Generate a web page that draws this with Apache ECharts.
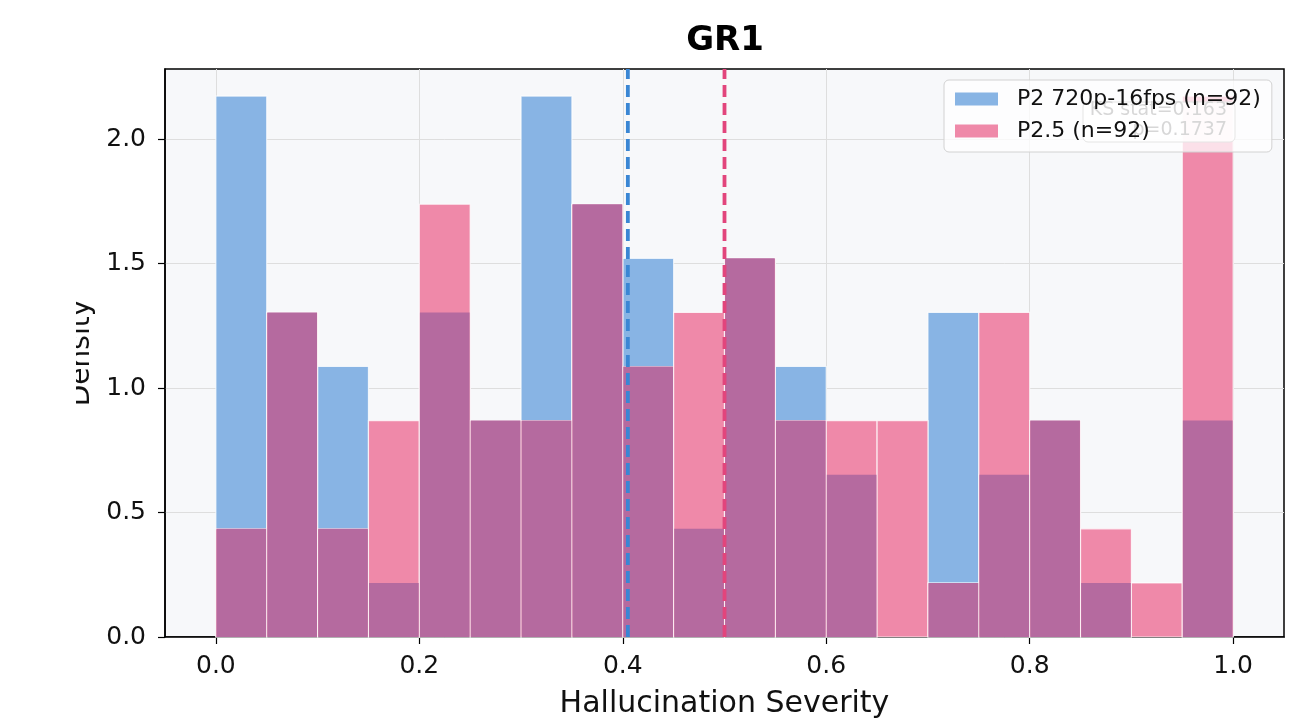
<!DOCTYPE html>
<html>
<head>
<meta charset="utf-8">
<title>GR1</title>
<script src="https://cdn.jsdelivr.net/npm/echarts@6.0.0/dist/echarts.min.js"></script>
<style>
  html, body { margin: 0; padding: 0; background: #fff; }
  #chart { width: 1291px; height: 719px; }
</style>
</head>
<body>
<div id="chart"></div>
<script>
// histogram bins (left edges), width 0.05
const binLefts = [0.00, 0.05, 0.10, 0.15, 0.20, 0.25, 0.30, 0.35, 0.40, 0.45,
                  0.50, 0.55, 0.60, 0.65, 0.70, 0.75, 0.80, 0.85, 0.90, 0.95];
const binWidth = 0.05;

// counts per bin (n = 92 each)
const blueName = 'P2 720p-16fps (n=92)';
const blueCounts = [10, 6, 5, 1, 6, 4, 10, 8, 7, 2, 7, 5, 3, 0, 6, 3, 4, 1, 0, 4];
const blueN = 92;
const blueMean = 0.405;

const pinkName = 'P2.5 (n=92)';
const pinkCounts = [2, 6, 2, 4, 8, 4, 4, 8, 5, 6, 7, 4, 4, 4, 1, 6, 4, 2, 1, 10];
const pinkN = 92;
const pinkMean = 0.500;

const xTicks = [0, 0.2, 0.4, 0.6, 0.8, 1.0];
const yTicks = [0, 0.5, 1.0, 1.5, 2.0];
const ksLines = ['KS stat=0.163', 'p=0.1737'];

const BLUE = '#88b4e4';
const PINK = '#ef89a9';
const PURPLE = '#b56a9f';
const FONT = 'DejaVu Sans';

// density = count / (n * width)
function toRows(counts, n) {
  return counts.map((c, i) => [binLefts[i], binLefts[i] + binWidth, c / (n * binWidth)])
    .filter(r => r[2] > 0);
}
const blueRows = toRows(blueCounts, blueN);
const pinkRows = toRows(pinkCounts, pinkN);
const overlapRows = binLefts.map((x, i) => [x, x + binWidth,
  Math.min(blueCounts[i] / (blueN * binWidth), pinkCounts[i] / (pinkN * binWidth))])
  .filter(r => r[2] > 0);

const yMax = Math.max(...blueRows.map(r => r[2]), ...pinkRows.map(r => r[2])) * 1.05;

function rectRenderer(color, edged) {
  return function (params, api) {
    const p0 = api.coord([api.value(0), 0]);
    const p1 = api.coord([api.value(1), api.value(2)]);
    const inset = edged ? 0 : 0.6;
    return {
      type: 'rect',
      shape: { x: p0[0] + inset, y: p1[1], width: p1[0] - p0[0] - 2 * inset, height: p0[1] - p1[1] },
      style: edged ? { fill: color, stroke: 'rgba(255,255,255,0.75)', lineWidth: 1.2 } : { fill: color }
    };
  };
}

function meanLine(name, x, color) {
  return {
    name: name,
    type: 'line',
    data: [[x, 0], [x, yMax]],
    showSymbol: false,
    symbol: 'none',
    silent: true,
    z: 5,
    lineStyle: { color: color, width: 3.8, type: [12, 6] }
  };
}

const chart = echarts.init(document.getElementById('chart'));

const option = {
  animation: false,
  textStyle: { fontFamily: FONT },
  title: {
    text: 'GR1',
    left: 720,
    textAlign: 'center',
    top: 19,
    textStyle: { fontSize: 34, fontWeight: 'bold', color: '#000', fontFamily: FONT }
  },
  legend: {
    data: [blueName, pinkName],
    orient: 'vertical',
    left: 944,
    top: 80,
    padding: [8, 11, 10, 11],
    itemGap: 10,
    itemWidth: 43,
    itemHeight: 13,
    icon: 'rect',
    backgroundColor: 'rgba(255,255,255,0.74)',
    borderColor: '#d2d2d2',
    borderWidth: 1,
    borderRadius: 5,
    selectedMode: false,
    textStyle: { fontSize: 22, color: '#111', fontFamily: FONT, padding: [0, 0, 0, 14] }
  },
  grid: {
    left: 165,
    top: 69,
    width: 1119,
    height: 568,
    show: true,
    backgroundColor: '#f7f8fa',
    borderColor: '#000',
    borderWidth: 1.5,
    outerBoundsMode: 'none',
    containLabel: false
  },
  xAxis: {
    type: 'value',
    min: -0.05,
    max: 1.05,
    name: 'Hallucination Severity',
    nameLocation: 'middle',
    nameGap: 52,
    nameTextStyle: { fontSize: 30, color: '#111', fontFamily: FONT },
    axisLine: { show: true, onZero: false, lineStyle: { color: '#000', width: 1.5 } },
    axisTick: { show: true, inside: false, length: 7, lineStyle: { color: '#000', width: 1.2 }, customValues: xTicks },
    axisLabel: {
      customValues: xTicks,
      margin: 17,
      fontSize: 25,
      color: '#111',
      fontFamily: FONT,
      formatter: v => v.toFixed(1)
    },
    splitLine: { show: true, lineStyle: { color: '#dedede', width: 1 } }
  },
  yAxis: {
    type: 'value',
    min: 0,
    max: yMax,
    interval: 0.5,
    name: 'Density',
    nameLocation: 'middle',
    nameGap: 59,
    nameTextStyle: { fontSize: 28, color: '#111', fontFamily: FONT },
    axisLine: { show: true, onZero: false, lineStyle: { color: '#000', width: 1.5 } },
    axisTick: { show: true, inside: false, length: 7, lineStyle: { color: '#000', width: 1.2 }, customValues: yTicks },
    axisLabel: {
      customValues: yTicks,
      margin: 19,
      fontSize: 25,
      color: '#111',
      fontFamily: FONT,
      formatter: v => v.toFixed(1)
    },
    splitLine: { show: true, lineStyle: { color: '#dedede', width: 1 } }
  },
  graphic: [
    {
      type: 'rect',
      z: 3,
      shape: { x: 1083, y: 102, width: 152, height: 40, r: 5 },
      style: { fill: 'rgba(255,255,255,0.85)', stroke: '#9a9a9a', lineWidth: 1 }
    },
    {
      type: 'text',
      z: 3,
      x: 1227,
      y: 100,
      style: {
        text: ksLines.join('\n'),
        fill: '#666',
        font: '19px "DejaVu Sans"',
        align: 'right',
        verticalAlign: 'top',
        lineHeight: 20
      }
    },
    {
      // the left edge of the y label is cut off in the original
      type: 'rect',
      z: 10,
      shape: { x: 0, y: 0, width: 76, height: 719 },
      style: { fill: '#fff' }
    }
  ],
  series: [
    {
      name: blueName,
      type: 'custom',
      renderItem: rectRenderer(BLUE, true),
      itemStyle: { color: BLUE },
      encode: { x: [0, 1], y: 2 },
      data: blueRows,
      z: 2
    },
    {
      name: pinkName,
      type: 'custom',
      renderItem: rectRenderer(PINK, true),
      itemStyle: { color: PINK },
      encode: { x: [0, 1], y: 2 },
      data: pinkRows,
      z: 2
    },
    {
      name: 'overlap',
      type: 'custom',
      renderItem: rectRenderer(PURPLE, false),
      itemStyle: { color: PURPLE },
      encode: { x: [0, 1], y: 2 },
      data: overlapRows,
      z: 2
    },
    meanLine('blue mean', blueMean, '#3a86d4'),
    meanLine('pink mean', pinkMean, '#e2457c')
  ]
};

chart.setOption(option);
window.addEventListener('resize', () => chart.resize());
</script>
</body>
</html>
